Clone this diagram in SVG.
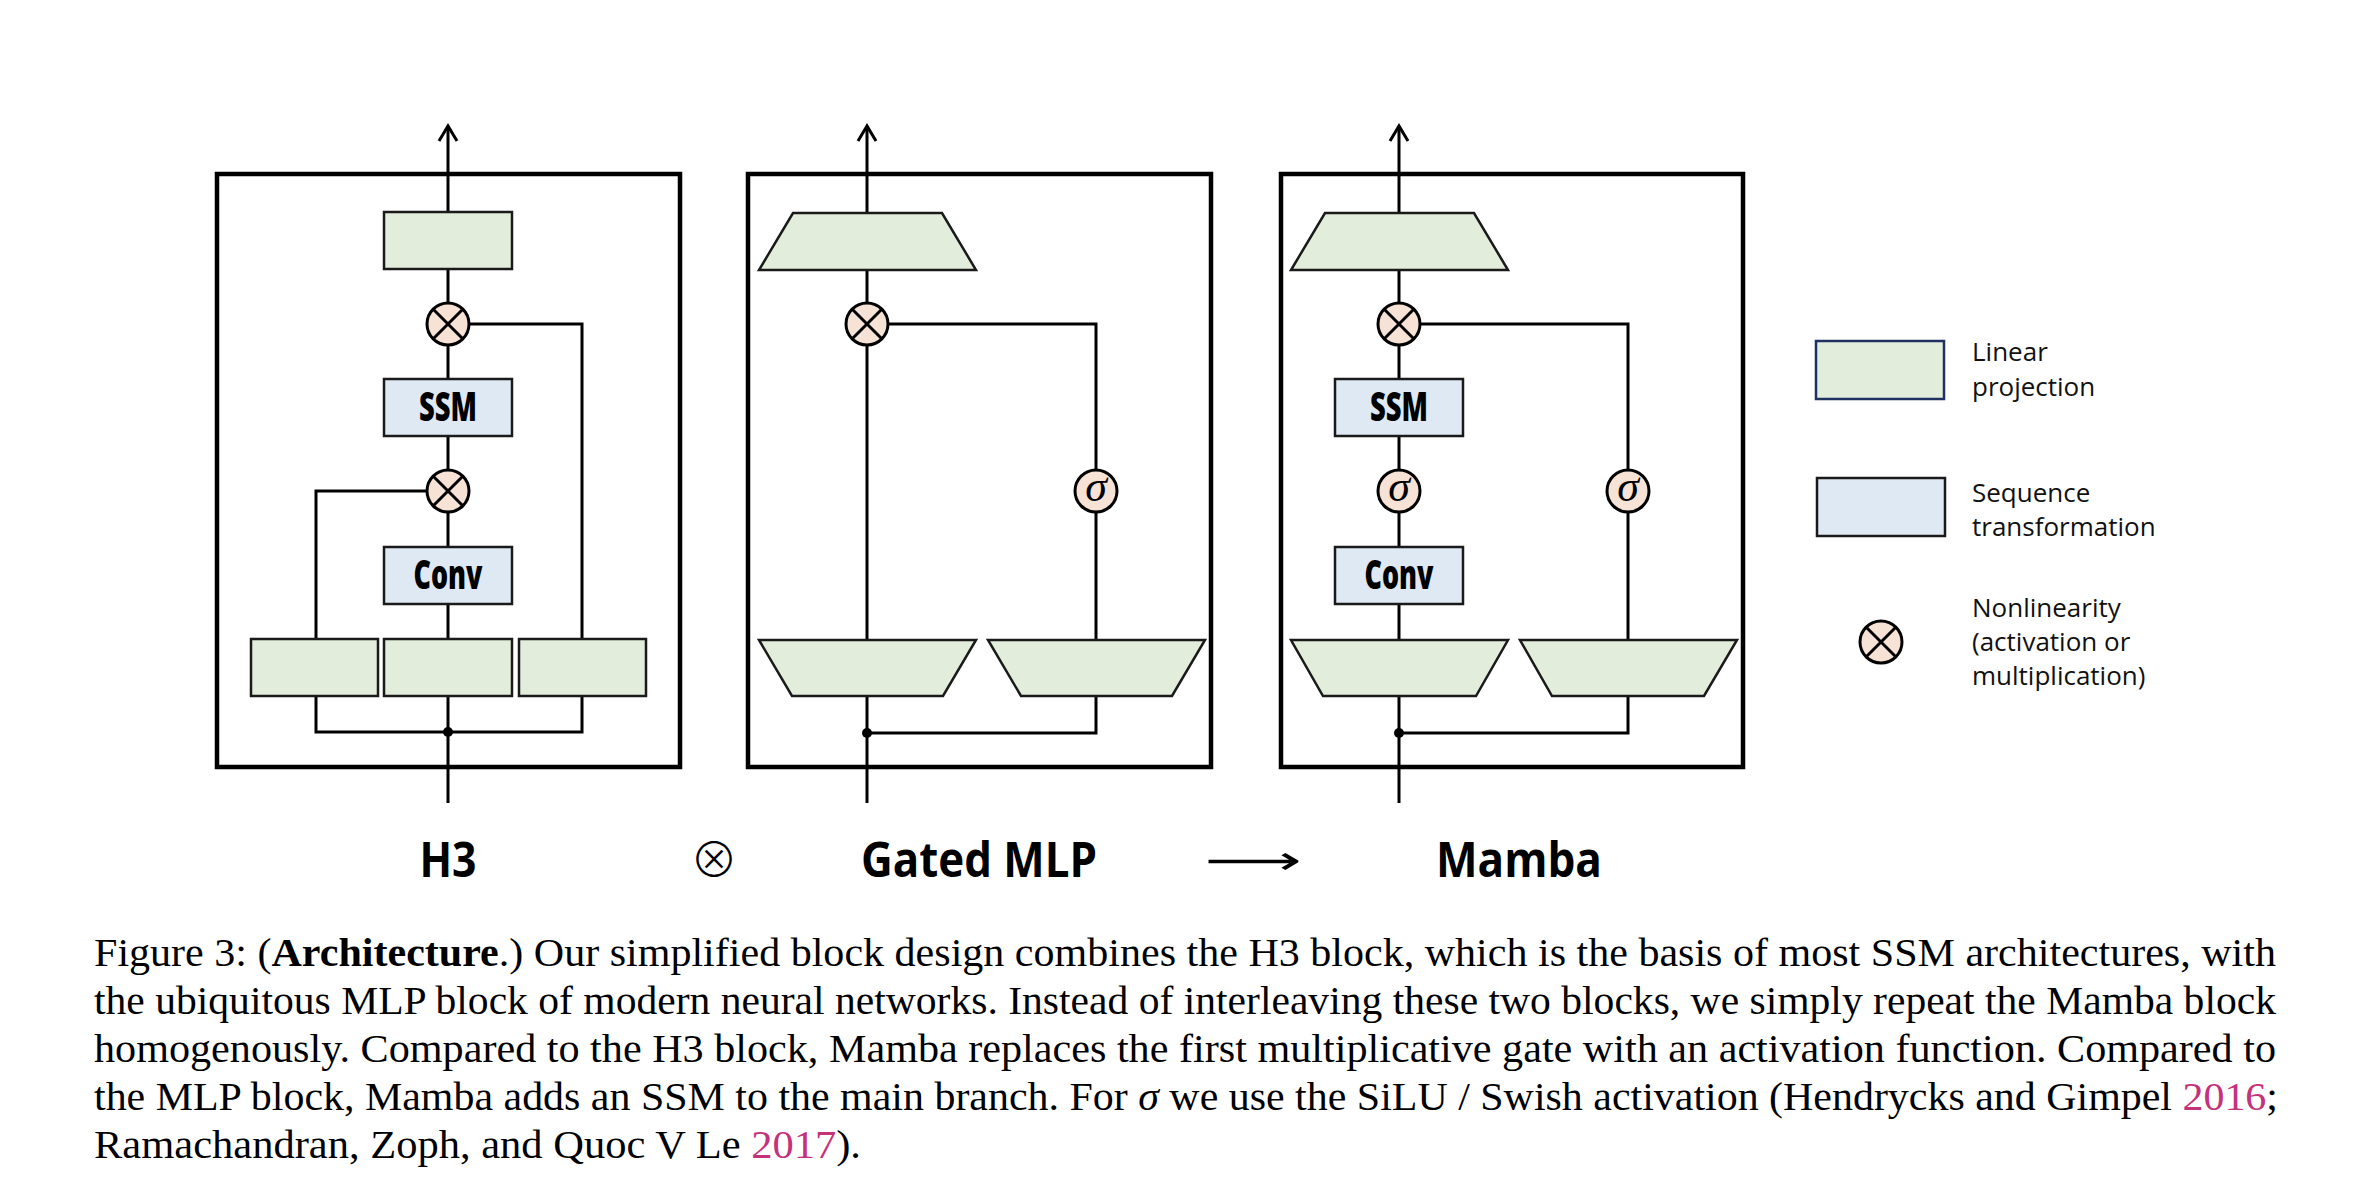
<svg xmlns="http://www.w3.org/2000/svg" width="2376" height="1200" viewBox="0 0 2376 1200">
<style>
.frame{fill:none;stroke:#000;stroke-width:4.5}
.lin{fill:#e3eddb;stroke:#1a1a1a;stroke-width:2.5}
.linleg{fill:#e3eddb;stroke:#1f3160;stroke-width:2.5}
.seq{fill:#dfe9f4;stroke:#1a1a1a;stroke-width:2.5}
.op{fill:#f6e3d5;stroke:#000;stroke-width:3}
.x{stroke:#000;stroke-width:3;fill:none}
.wire{fill:none;stroke:#000;stroke-width:3}
.lbl{font-family:"Open Sans","Liberation Sans",sans-serif;font-weight:800;font-size:40px;text-anchor:middle;fill:#000}
.sig{font-family:"Liberation Serif",serif;font-style:italic;font-size:44px;text-anchor:middle;fill:#000}
.title{font-family:"Open Sans","Liberation Sans",sans-serif;font-weight:700;font-size:48px;text-anchor:middle;fill:#000}
.leg{font-family:"Open Sans","Liberation Sans",sans-serif;font-size:26px;fill:#111}
.cap{font-family:"Liberation Serif",serif;font-size:41px;fill:#000}
.cite{fill:#c4327b}
</style>
<defs>
<marker id="arr" markerUnits="userSpaceOnUse" viewBox="-20 -12 24 24" markerWidth="24" markerHeight="24" refX="0" refY="0" orient="auto">
<path d="M-15,-9 L0,0 L-15,9" fill="none" stroke="#000" stroke-width="3"/>
</marker>
</defs>

<g id="connectors">
<!-- H3 -->
<path class="wire" d="M448,803 V126" marker-end="url(#arr)"/>
<path class="wire" d="M316,696 V732 H582 V696"/>
<path class="wire" d="M316,639 V491 H427"/>
<path class="wire" d="M582,639 V324 H469"/>
<circle cx="448" cy="732" r="5" fill="#000"/>
<!-- Gated MLP -->
<path class="wire" d="M867,803 V126" marker-end="url(#arr)"/>
<path class="wire" d="M867,733 H1096 V696"/>
<path class="wire" d="M1096,640 V324 H888"/>
<circle cx="867" cy="733" r="5" fill="#000"/>
<!-- Mamba -->
<path class="wire" d="M1399,803 V126" marker-end="url(#arr)"/>
<path class="wire" d="M1399,733 H1628 V696"/>
<path class="wire" d="M1628,640 V324 H1420"/>
<circle cx="1399" cy="733" r="5" fill="#000"/>
</g>

<!-- H3 block -->
<g id="h3-frame"><rect class="frame" x="217" y="174" width="463" height="593"/></g>
<g id="h3-out"><rect class="lin" x="384" y="212" width="128" height="57"/></g>
<g id="h3-mul2"><circle class="op" cx="448" cy="324" r="21"/><path class="x" d="M433,309 L463,339 M463,309 L433,339"/></g>
<g id="h3-ssm"><rect class="seq" x="384" y="379" width="128" height="57"/><text class="lbl" x="448" y="421" textLength="58" lengthAdjust="spacingAndGlyphs">SSM</text></g>
<g id="h3-mul1"><circle class="op" cx="448" cy="491" r="21"/><path class="x" d="M433,476 L463,506 M463,476 L433,506"/></g>
<g id="h3-conv"><rect class="seq" x="384" y="547" width="128" height="57"/><text class="lbl" x="448" y="589" textLength="69" lengthAdjust="spacingAndGlyphs">Conv</text></g>
<g id="h3-in-left"><rect class="lin" x="251" y="639" width="127" height="57"/></g>
<g id="h3-in-mid"><rect class="lin" x="384" y="639" width="128" height="57"/></g>
<g id="h3-in-right"><rect class="lin" x="519" y="639" width="127" height="57"/></g>

<!-- Gated MLP block -->
<g id="mlp-frame"><rect class="frame" x="748" y="174" width="463" height="593"/></g>
<g id="mlp-out"><polygon class="lin" points="793,213 942,213 976,270 759,270"/></g>
<g id="mlp-mul"><circle class="op" cx="867" cy="324" r="21"/><path class="x" d="M852,309 L882,339 M882,309 L852,339"/></g>
<g id="mlp-sigma"><circle class="op" cx="1096" cy="491" r="21"/><text class="sig" x="1096" y="501">σ</text></g>
<g id="mlp-in-left"><polygon class="lin" points="759,640 976,640 943,696 792,696"/></g>
<g id="mlp-in-right"><polygon class="lin" points="988,640 1205,640 1172,696 1021,696"/></g>

<!-- Mamba block -->
<g id="mamba-frame"><rect class="frame" x="1281" y="174" width="462" height="593"/></g>
<g id="mamba-out"><polygon class="lin" points="1325,213 1474,213 1508,270 1291,270"/></g>
<g id="mamba-mul"><circle class="op" cx="1399" cy="324" r="21"/><path class="x" d="M1384,309 L1414,339 M1414,309 L1384,339"/></g>
<g id="mamba-ssm"><rect class="seq" x="1335" y="379" width="128" height="57"/><text class="lbl" x="1399" y="421" textLength="58" lengthAdjust="spacingAndGlyphs">SSM</text></g>
<g id="mamba-sigma1"><circle class="op" cx="1399" cy="491" r="21"/><text class="sig" x="1399" y="501">σ</text></g>
<g id="mamba-conv"><rect class="seq" x="1335" y="547" width="128" height="57"/><text class="lbl" x="1399" y="589" textLength="69" lengthAdjust="spacingAndGlyphs">Conv</text></g>
<g id="mamba-sigma2"><circle class="op" cx="1628" cy="491" r="21"/><text class="sig" x="1628" y="501">σ</text></g>
<g id="mamba-in-left"><polygon class="lin" points="1291,640 1508,640 1476,696 1323,696"/></g>
<g id="mamba-in-right"><polygon class="lin" points="1520,640 1737,640 1704,696 1552,696"/></g>

<!-- Legend -->
<g id="legend-linear"><rect class="linleg" x="1816" y="341" width="128" height="58"/><text class="leg" x="1972" y="361">Linear</text><text class="leg" x="1972" y="396">projection</text></g>
<g id="legend-seq"><rect class="seq" x="1817" y="478" width="128" height="58"/><text class="leg" x="1972" y="502">Sequence</text><text class="leg" x="1972" y="536">transformation</text></g>
<g id="legend-nonlin"><circle class="op" cx="1881" cy="642" r="21"/><path class="x" d="M1866,627 L1896,657 M1896,627 L1866,657"/><text class="leg" x="1972" y="617">Nonlinearity</text><text class="leg" x="1972" y="651">(activation or</text><text class="leg" x="1972" y="685">multiplication)</text></g>

<!-- Block titles -->
<g id="titles">
<text class="title" x="448" y="877" textLength="57" lengthAdjust="spacingAndGlyphs">H3</text>
<text x="714" y="877" font-family="Noto Sans CJK SC, DejaVu Sans, sans-serif" font-weight="300" font-size="48" text-anchor="middle">⊗</text>
<text class="title" x="979" y="877" textLength="236" lengthAdjust="spacingAndGlyphs">Gated MLP</text>
<text x="1205" y="874" font-family="DejaVu Sans, sans-serif" font-size="40" textLength="97" lengthAdjust="spacingAndGlyphs">⟶</text>
<text class="title" x="1519" y="877" textLength="166" lengthAdjust="spacingAndGlyphs">Mamba</text>
</g>

<!-- Caption -->
<g id="caption">
<text class="cap" x="94" y="966" textLength="2182" lengthAdjust="spacingAndGlyphs">Figure 3: (<tspan font-weight="bold">Architecture</tspan>.) Our simplified block design combines the H3 block, which is the basis of most SSM architectures, with</text>
<text class="cap" x="94" y="1014" textLength="2182" lengthAdjust="spacingAndGlyphs">the ubiquitous MLP block of modern neural networks.  Instead of interleaving these two blocks, we simply repeat the Mamba block</text>
<text class="cap" x="94" y="1062" textLength="2182" lengthAdjust="spacingAndGlyphs">homogenously. Compared to the H3 block, Mamba replaces the first multiplicative gate with an activation function. Compared to</text>
<text class="cap" x="94" y="1110" textLength="2184" lengthAdjust="spacingAndGlyphs">the MLP block, Mamba adds an SSM to the main branch. For <tspan font-style="italic">σ</tspan> we use the SiLU / Swish activation (Hendrycks and Gimpel <tspan class="cite">2016</tspan>;</text>
<text class="cap" x="94" y="1158" textLength="767" lengthAdjust="spacingAndGlyphs">Ramachandran, Zoph, and Quoc V Le <tspan class="cite">2017</tspan>).</text>
</g>
</svg>
